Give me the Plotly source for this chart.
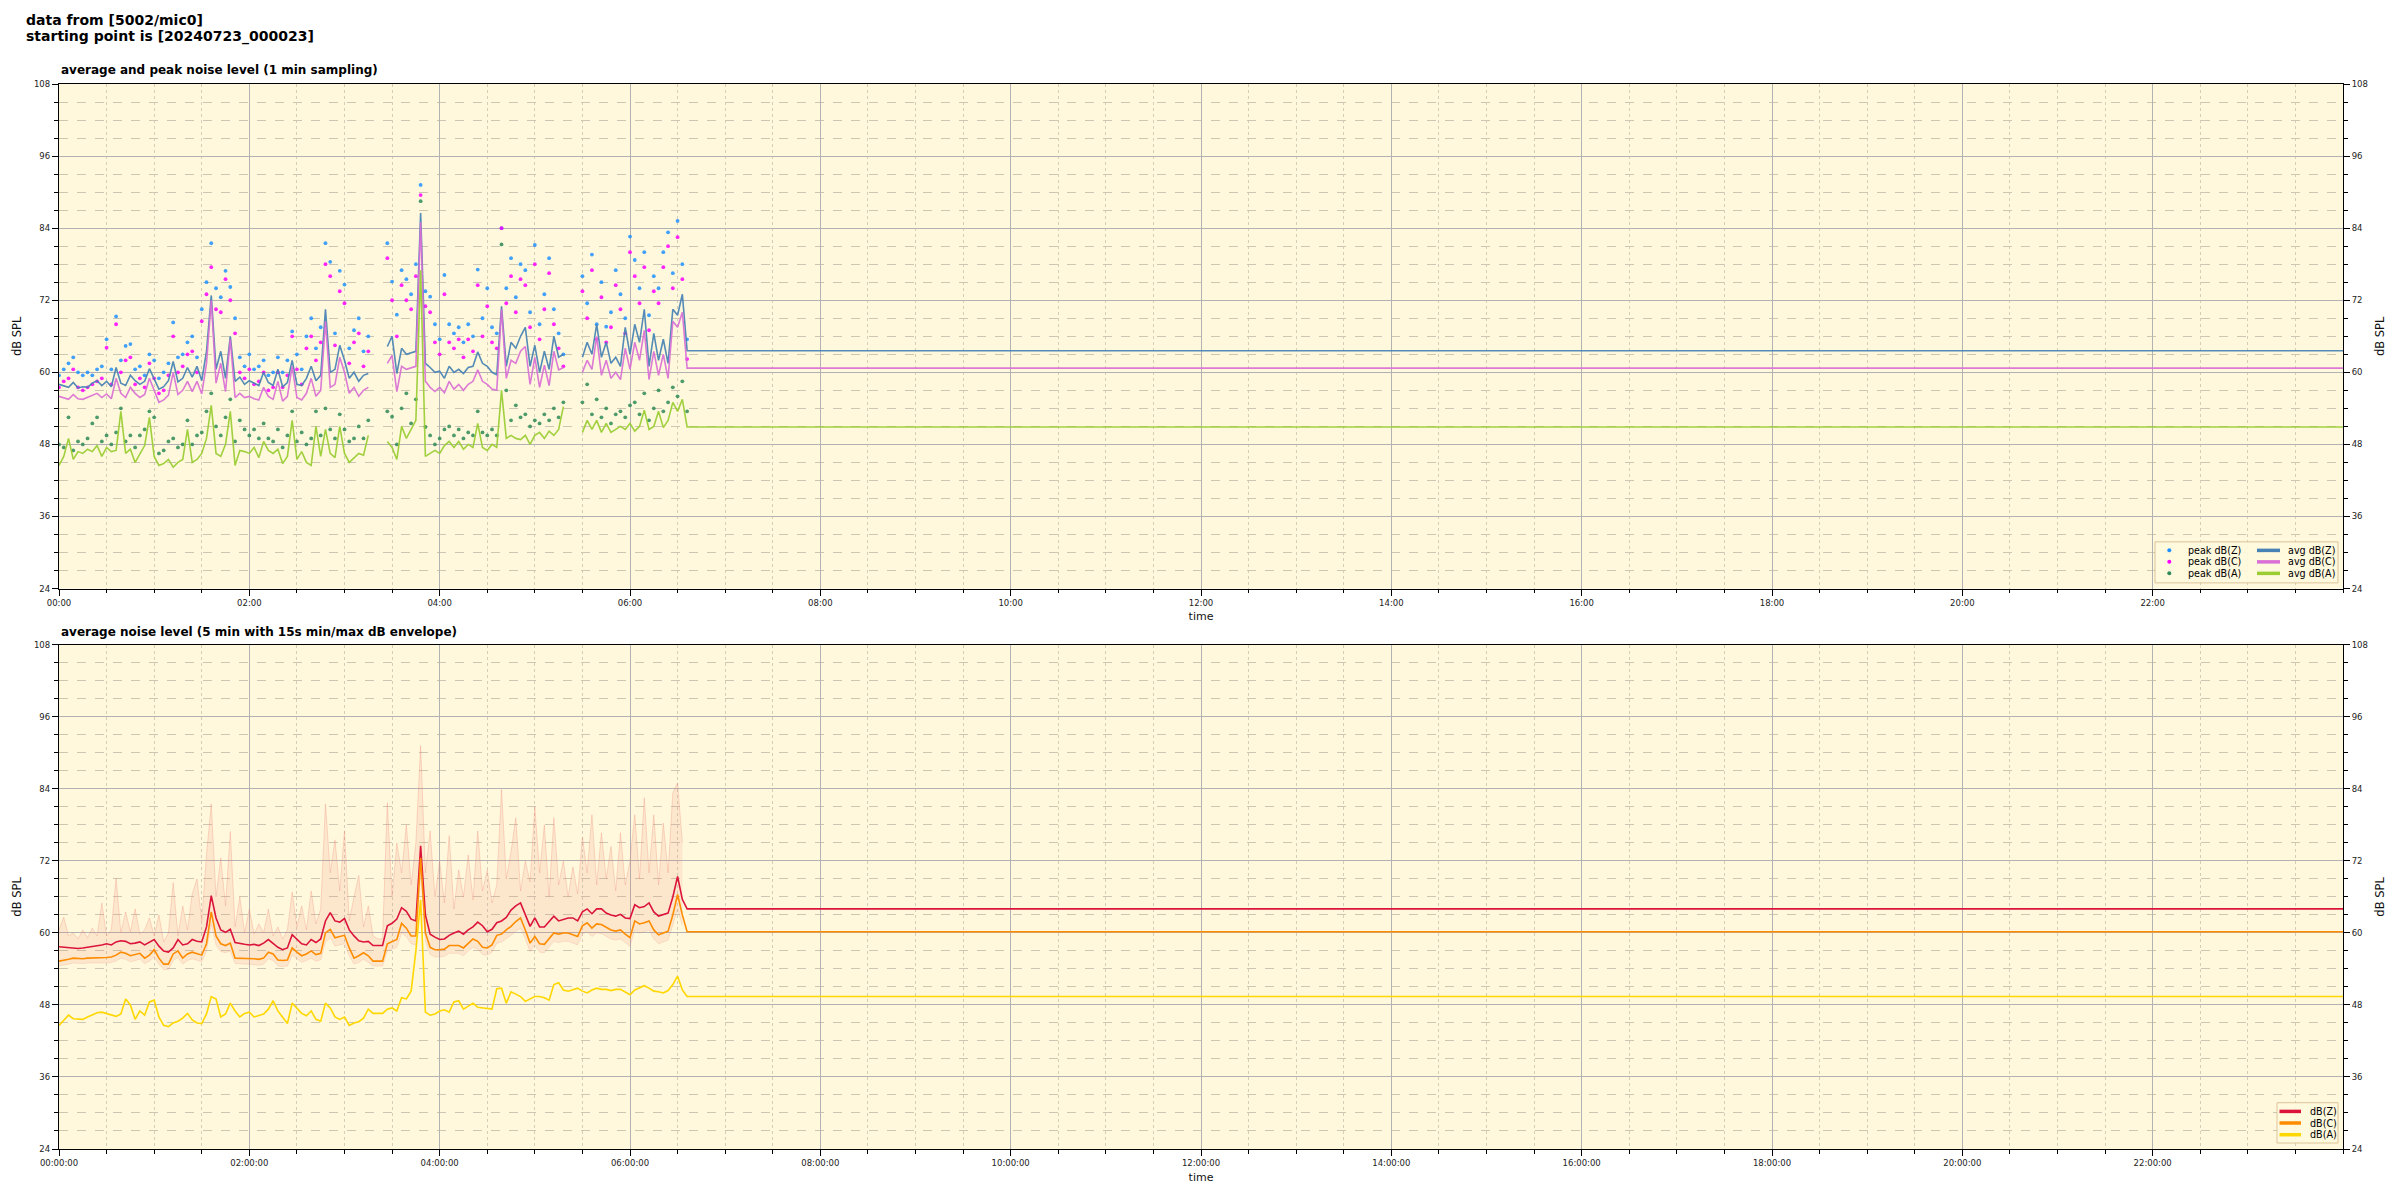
import plotly.graph_objects as go

# ---------------- data (time in minutes after 00:00, 3-minute grid) ----------------
T = list(range(0, 397, 3))          # 0 .. 396 min
T_ENV = T[:-1]                        # envelope ends at 393 min
END = 1440                            # last timestamp of the day (flat continuation)

avg_z = [58.0, 57.8, 57.5, 58.3, 57.4, 57.6, 57.5, 58.2, 58.6, 57.8,
         58.5, 57.6, 60.8, 58.2, 57.8, 59.5, 58.6, 58.0, 58.5, 60.6,
         59.0, 57.2, 57.6, 58.6, 61.8, 58.4, 59.0, 60.8, 59.2, 61.0,
         58.6, 63.5, 72.8, 60.5, 63.5, 59.0, 66.0, 58.5, 59.2, 58.0,
         58.6, 58.2, 57.8, 60.0, 58.3, 57.8, 60.5, 57.6, 58.3, 62.0,
         58.0, 57.8, 59.0, 61.0, 58.6, 59.5, 70.5, 60.0, 60.5, 64.5,
         62.0, 59.0, 60.0, 58.5, 59.5, 59.8, None, None, None, 64.3,
         66.0, 59.8, 64.0, 63.0, 63.2, 63.5, 86.5, 61.5, 60.8, 60.0,
         60.2, 59.0, 61.0, 60.0, 60.5, 59.8, 60.8, 61.0, 63.4, 61.5,
         61.0, 60.0, 59.6, 71.0, 61.0, 65.0, 64.0, 66.0, 67.5, 61.0,
         64.5, 60.0, 63.5, 60.5, 66.0, 62.5, 63.0, None, None, None,
         62.5, 65.0, 63.0, 68.0, 62.5, 65.0, 61.5, 62.5, 61.0, 67.5,
         63.0, 68.0, 65.0, 70.5, 61.0, 66.5, 62.0, 65.5, 61.5, 70.5,
         69.5, 73.0, 63.6]

avg_c = [56.0, 55.8, 55.5, 56.3, 55.6, 55.5, 55.8, 56.2, 56.5, 55.8,
         56.4, 55.6, 59.0, 56.5, 55.8, 57.5, 56.5, 55.8, 56.3, 59.0,
         57.0, 55.0, 55.4, 56.2, 60.0, 56.3, 57.0, 58.5, 56.8, 58.5,
         56.4, 61.5, 72.0, 58.2, 61.5, 56.8, 65.5, 55.8, 56.5, 55.8,
         56.0, 55.6, 55.4, 57.5, 56.0, 55.5, 58.5, 55.2, 56.0, 61.0,
         55.8, 55.4, 56.5, 59.0, 56.0, 57.0, 68.5, 57.5, 58.0, 62.5,
         60.0, 56.5, 57.5, 56.0, 57.0, 57.5, None, None, None, 61.5,
         62.8, 56.8, 61.0, 60.5, 60.8, 61.0, 85.0, 58.5, 57.5, 56.8,
         57.5, 56.6, 58.5, 57.2, 58.0, 57.0, 58.0, 58.5, 60.4, 58.5,
         58.0, 57.2, 57.0, 70.5, 59.0, 62.0, 61.5, 63.5, 64.3, 58.0,
         62.5, 57.5, 61.2, 57.8, 63.5, 60.4, 60.8, None, None, None,
         60.0, 62.0, 60.5, 66.0, 59.5, 62.0, 59.0, 60.0, 58.8, 64.0,
         60.5, 65.0, 62.0, 67.0, 58.8, 63.5, 59.5, 63.0, 59.0, 68.5,
         67.5, 70.0, 60.7]

avg_a = [44.5, 46.0, 49.0, 45.5, 46.8, 46.5, 47.2, 46.8, 47.8, 46.0,
         47.5, 46.8, 47.0, 53.5, 46.5, 47.2, 45.0, 46.5, 47.8, 52.5,
         46.0, 44.5, 44.8, 45.5, 44.2, 45.0, 45.5, 50.5, 45.0, 45.5,
         46.5, 49.0, 54.5, 46.5, 46.0, 48.0, 53.5, 44.5, 47.0, 46.8,
         46.5, 47.5, 45.8, 48.5, 47.0, 46.5, 47.2, 44.8, 46.0, 52.0,
         45.5, 46.8, 45.0, 44.5, 51.0, 46.0, 50.5, 46.5, 45.8, 51.0,
         46.5, 45.0, 45.8, 46.5, 46.2, 49.5, None, None, None, 48.5,
         47.5, 45.5, 51.0, 49.0, 50.5, 52.0, 77.0, 46.0, 46.5, 47.0,
         46.5, 47.8, 48.5, 47.5, 48.5, 47.2, 48.0, 47.5, 51.5, 47.5,
         47.0, 48.0, 47.5, 57.0, 49.0, 49.5, 49.0, 48.8, 49.5, 48.0,
         49.5, 50.0, 49.0, 50.2, 49.5, 50.5, 54.3, None, None, None,
         50.0, 52.0, 50.5, 52.0, 50.0, 51.5, 50.0, 50.5, 51.0, 50.5,
         51.5, 50.2, 51.0, 53.7, 50.5, 51.0, 53.5, 50.8, 52.0, 55.0,
         53.5, 55.5, 50.9]

peak_z = [59.5, 60.5, 61.5, 62.5, 60.0, 59.5, 60.0, 59.5, 60.5, 61.0,
          65.5, 60.5, 69.3, 62.0, 64.4, 64.7, 60.5, 61.0, 59.5, 63.0,
          62.0, 59.0, 60.0, 61.5, 68.3, 62.5, 63.0, 65.0, 66.0, 62.5,
          70.5, 75.0, 81.5, 74.0, 72.5, 76.9, 74.2, 69.0, 62.5, 61.0,
          63.0, 60.5, 61.0, 62.0, 59.5, 60.0, 62.5, 60.0, 62.0, 66.8,
          63.0, 60.5, 66.0, 69.0, 64.0, 67.5, 81.5, 78.4, 66.5, 76.9,
          74.6, 64.0, 67.0, 69.0, 63.5, 66.0, None, None, None, 81.5,
          75.1, 69.6, 77.0, 75.5, 73.0, 78.0, 91.2, 73.5, 72.6, 68.0,
          65.5, 76.2, 68.0, 66.5, 67.5, 65.0, 68.0, 66.0, 77.1, 69.0,
          74.0, 67.5, 66.5, 84.0, 74.0, 79.0, 72.5, 78.0, 77.0, 70.0,
          81.2, 68.0, 73.0, 79.0, 70.5, 66.5, 63.0, None, None, None,
          76.0, 71.5, 79.6, 68.0, 75.0, 67.6, 70.0, 77.0, 73.0, 69.0,
          82.6, 78.7, 74.0, 80.0, 69.5, 76.0, 74.0, 80.0, 83.3, 76.5,
          85.2, 78.0, 65.5]

peak_c = [57.5, 58.5, 59.0, 60.5, 57.5, 57.0, 57.5, 58.0, 58.5, 59.0,
          64.1, 58.0, 68.0, 60.0, 62.0, 62.5, 58.0, 59.0, 57.5, 61.5,
          59.0, 56.5, 57.0, 59.5, 66.0, 60.0, 61.0, 63.0, 63.5, 60.0,
          68.5, 73.0, 77.5, 70.5, 70.0, 75.5, 72.0, 66.5, 60.0, 59.0,
          60.5, 58.0, 58.5, 60.0, 57.0, 57.5, 60.0, 57.5, 59.5, 66.0,
          60.5, 58.0, 64.0, 66.0, 62.0, 65.0, 78.0, 76.0, 64.5, 73.5,
          71.5, 61.5, 65.0, 66.5, 61.0, 63.5, None, None, None, 79.0,
          72.0, 66.0, 74.5, 72.0, 70.5, 76.0, 89.5, 71.0, 70.0, 65.0,
          63.0, 73.0, 65.0, 64.0, 65.5, 62.5, 65.5, 63.5, 74.5, 66.0,
          71.0, 65.0, 64.0, 84.0, 71.5, 76.0, 70.0, 75.5, 74.5, 67.5,
          78.0, 65.5, 70.5, 76.5, 68.0, 64.0, 61.0, None, None, None,
          73.5, 69.0, 77.0, 65.5, 72.5, 65.0, 67.5, 74.5, 70.5, 66.5,
          80.0, 76.0, 71.5, 77.5, 67.0, 73.5, 71.5, 77.5, 81.0, 74.0,
          82.5, 75.5, 62.2]

peak_a = [48.0, 47.5, 52.5, 47.0, 48.5, 48.0, 49.0, 51.5, 52.5, 48.5,
          49.5, 48.0, 50.0, 54.0, 48.5, 49.5, 47.5, 49.5, 50.5, 53.5,
          52.5, 46.5, 47.0, 48.5, 49.0, 47.5, 48.0, 52.0, 48.0, 49.5,
          50.0, 53.5, 56.5, 51.0, 49.5, 52.5, 55.5, 48.5, 52.0, 50.5,
          49.5, 50.5, 49.0, 51.5, 49.0, 48.5, 50.5, 47.5, 49.5, 53.5,
          48.5, 50.0, 48.0, 49.0, 53.5, 49.5, 54.0, 50.5, 49.0, 53.0,
          50.5, 48.5, 49.0, 51.0, 49.0, 52.0, None, None, None, 53.5,
          52.6, 48.0, 54.0, 56.5, 51.5, 55.5, 88.5, 50.9, 49.5, 48.0,
          49.0, 50.5, 51.0, 49.5, 50.5, 49.0, 50.0, 49.5, 53.5, 50.0,
          49.5, 50.5, 49.5, 81.3, 57.0, 52.0, 54.5, 52.5, 53.0, 51.0,
          52.0, 51.5, 53.0, 52.0, 54.0, 52.5, 55.0, None, None, None,
          55.0, 58.0, 53.0, 55.5, 52.5, 54.0, 51.5, 53.0, 53.5, 52.5,
          54.5, 55.0, 53.0, 56.5, 52.0, 54.0, 57.0, 53.5, 55.0, 57.5,
          56.0, 58.5, 53.5]

lvl_z = [57.7, 57.6, 57.5, 57.5, 57.4, 57.5, 57.6, 57.7, 57.9, 58.0,
         58.2, 58.0, 58.5, 58.7, 58.6, 58.2, 58.3, 58.5, 58.0, 58.4,
         58.9, 57.8, 57.0, 56.8, 57.5, 58.9, 58.0, 58.2, 58.9, 58.6,
         58.5, 61.0, 66.2, 62.5, 60.5, 60.1, 60.6, 58.4, 58.2, 58.1,
         58.0, 58.1, 57.9, 58.3, 58.9, 58.2, 57.6, 57.2, 57.5, 59.7,
         59.0, 58.2, 58.0, 58.9, 58.4, 59.0, 62.0, 63.4, 62.0, 61.8,
         62.4, 60.5, 59.5, 58.7, 58.5, 58.6, 57.9, 57.9, 57.9, 61.2,
         61.6, 62.3, 64.2, 63.6, 62.3, 62.0, 74.5, 63.0, 59.8, 59.3,
         58.9, 59.0, 59.6, 60.0, 60.3, 59.8, 60.5, 61.0, 61.8, 61.2,
         60.2, 60.6, 61.7, 62.0, 62.6, 63.8, 64.5, 65.0, 63.0, 61.1,
         62.5, 61.0, 61.0, 61.9, 62.8, 62.0, 62.3, 62.5, 62.5, 62.0,
         63.5, 64.0, 63.2, 64.0, 64.0, 63.3, 63.0, 62.8, 63.1, 62.5,
         62.4, 64.7, 64.2, 64.4, 65.0, 63.5, 62.8, 63.1, 63.3, 66.0,
         69.4, 65.6, 64.0]

lvl_c = [55.3, 55.4, 55.6, 55.8, 55.7, 55.7, 55.8, 55.8, 55.9, 55.8,
         55.9, 56.0, 56.3, 56.8, 56.6, 56.2, 56.4, 56.6, 55.8, 56.3,
         57.2, 55.8, 54.8, 54.8, 56.5, 57.0, 55.8, 56.5, 56.8, 56.5,
         56.3, 58.2, 63.5, 59.5, 58.2, 57.9, 58.3, 55.8, 55.8, 55.8,
         55.8, 55.7, 55.6, 55.8, 56.8, 56.5, 55.5, 55.4, 55.5, 57.5,
         56.8, 56.2, 56.5, 57.0, 56.4, 56.6, 60.0, 60.6, 59.2, 59.4,
         59.6, 57.5, 55.8, 56.2, 56.7, 56.2, 55.3, 55.3, 55.3, 58.2,
         58.5, 58.9, 61.6, 60.8, 59.5, 59.5, 72.5, 60.0, 57.6, 57.2,
         57.2, 57.3, 57.9, 57.9, 57.9, 57.5, 58.3, 59.0, 58.6, 57.6,
         57.5, 58.0, 59.6, 59.8, 60.5, 61.1, 61.9, 62.5, 60.5, 58.3,
         59.4, 58.2, 58.1, 59.0, 60.0, 59.8, 60.0, 60.0, 59.7, 59.4,
         61.2, 61.7, 60.8, 61.5, 61.4, 61.0, 60.5, 60.3, 60.5, 59.8,
         59.2, 62.0, 61.5, 61.7, 62.0, 60.5, 59.7, 60.0, 60.3, 63.0,
         66.4, 63.0, 60.2]

lvl_a = [44.6, 45.5, 46.3, 45.7, 45.6, 45.6, 46.0, 46.3, 46.7, 46.8,
         46.6, 46.3, 46.1, 46.5, 49.0, 48.0, 45.6, 47.0, 46.3, 48.5,
         48.8, 46.0, 44.6, 44.4, 45.0, 45.3, 45.8, 46.6, 45.5, 45.0,
         44.9, 46.5, 49.4, 49.0, 46.0, 46.5, 48.3, 47.0, 46.0, 46.6,
         46.8, 46.0, 46.3, 46.5, 47.3, 48.7, 47.0, 46.0, 44.9, 48.3,
         47.5, 46.6, 46.2, 47.0, 45.6, 45.3, 48.3, 47.5, 46.0, 45.6,
         46.0, 44.6, 45.0, 45.2, 45.8, 47.3, 46.6, 46.6, 46.6, 47.3,
         47.5, 47.0, 49.2, 49.0, 50.3, 57.0, 65.5, 46.8, 46.3, 46.5,
         47.0, 47.2, 46.8, 48.5, 48.7, 47.3, 47.8, 48.3, 47.6, 47.5,
         47.3, 47.3, 50.7, 50.8, 48.3, 50.2, 49.8, 49.4, 48.6, 49.0,
         49.4, 49.4, 49.2, 48.8, 51.4, 51.7, 50.5, 50.3, 50.6, 50.8,
         50.3, 50.0, 50.5, 50.8, 50.6, 50.6, 50.4, 50.6, 50.6, 50.2,
         49.7, 50.5, 50.8, 51.2, 50.8, 50.3, 50.2, 50.0, 50.4, 51.4,
         52.8, 50.5, 49.4]

env_hi = [60.5, 62.6, 59.5, 60.0, 59.0, 60.5, 59.2, 60.8, 59.5, 65.0,
          59.5, 60.5, 69.1, 60.0, 63.5, 60.2, 64.0, 59.8, 60.5, 62.5,
          59.5, 63.0, 58.5, 60.0, 68.4, 59.5, 64.5, 60.5, 66.5, 69.0,
          62.0, 73.0, 81.5, 66.0, 72.5, 64.5, 76.9, 61.0, 66.0, 60.0,
          64.0, 59.8, 61.5, 60.0, 64.0, 59.5, 61.0, 59.0, 60.5, 66.8,
          61.0, 64.5, 60.5, 67.0, 61.5, 64.0, 81.5, 70.0, 75.5, 67.0,
          77.0, 62.0, 66.0, 69.6, 61.0, 64.5, 59.5, 59.0, 59.0, 81.7,
          66.0, 75.0, 70.0, 78.0, 68.0, 75.0, 91.2, 70.0, 77.0, 66.0,
          72.0, 65.0, 76.2, 64.0, 70.5, 66.0, 73.0, 65.5, 77.0, 67.0,
          70.5, 65.0, 68.0, 83.9, 69.0, 73.5, 79.2, 67.0, 72.0, 68.5,
          81.0, 70.0, 78.0, 66.0, 79.2, 68.0, 72.0, 66.0, 71.0, 66.5,
          76.0, 70.0, 79.7, 68.0, 76.7, 69.0, 74.4, 67.0, 76.7, 68.0,
          72.0, 79.7, 69.0, 82.5, 70.0, 79.7, 68.0, 78.3, 70.0, 83.3,
          85.0, 75.0]

env_lo = [54.5, 54.6, 54.8, 55.0, 54.9, 54.9, 55.0, 55.0, 55.0, 54.9,
          55.0, 55.1, 55.3, 55.8, 55.6, 55.2, 55.4, 55.6, 54.9, 55.3,
          56.0, 54.8, 53.9, 53.9, 55.4, 55.9, 54.8, 55.4, 55.7, 55.4,
          55.2, 57.0, 61.5, 58.0, 56.9, 56.7, 57.0, 54.9, 54.8, 54.8,
          54.8, 54.7, 54.6, 54.8, 55.7, 55.4, 54.5, 54.4, 54.5, 56.3,
          55.7, 55.1, 55.4, 55.8, 55.3, 55.5, 58.5, 59.2, 57.8, 58.0,
          58.2, 56.2, 54.8, 55.1, 55.6, 55.1, 54.5, 54.5, 54.5, 57.0,
          57.3, 57.6, 60.0, 59.4, 58.2, 58.0, 70.0, 58.6, 56.4, 56.0,
          56.0, 56.1, 56.6, 56.6, 56.6, 56.2, 57.0, 57.6, 57.3, 56.4,
          56.3, 56.8, 58.3, 58.5, 59.0, 59.6, 60.3, 60.8, 59.0, 56.9,
          58.0, 56.8, 56.7, 57.6, 58.6, 58.4, 58.6, 58.6, 58.3, 58.0,
          59.8, 60.2, 59.4, 60.0, 59.9, 59.5, 59.0, 58.8, 59.0, 58.4,
          57.8, 60.5, 60.0, 60.2, 60.5, 59.0, 58.2, 58.5, 58.8, 61.3,
          64.0, 61.2]

X_TICKS = list(range(0, 1440, 120))
TOP_TICKTEXT = ["%02d:00" % (v // 60) for v in X_TICKS]
BOT_TICKTEXT = ["%02d:00:00" % (v // 60) for v in X_TICKS]

# ---------------- geometry ----------------
W, H = 2400, 1200
ML, MR, MT, MB = 59, 57, 84, 50.7
PW, PH = W - ML - MR, H - MT - MB


def xp(p):
    return (p - ML) / PW


def yp(p):
    return (H - MB - p) / PH


TOP_DOM = [yp(588.7), 1.0]
BOT_DOM = [0.0, yp(645.0)]

FONT = "DejaVu Sans"
BG = "#fff8dc"

C_PZ, C_PC, C_PA = "#1e90ff", "#ff00ff", "#2e8b57"
C_AZ, C_AC, C_AA = "#4682b4", "#da70d6", "#9acd32"
C_Z, C_C, C_A = "#dc143c", "#ff8c00", "#ffd700"


def ext(vals):
    return vals + [vals[-1]]


TX = T + [END]

fig = go.Figure()

# top: peak markers
for vals, col in [(peak_z, C_PZ), (peak_c, C_PC), (peak_a, C_PA)]:
    fig.add_trace(go.Scatter(x=T, y=vals, mode="markers", xaxis="x", yaxis="y",
                             marker=dict(color=col, size=3.8, opacity=0.85, line=dict(width=0)),
                             showlegend=False, hoverinfo="skip"))
# top: average lines
for vals, col in [(avg_z, C_AZ), (avg_c, C_AC), (avg_a, C_AA)]:
    fig.add_trace(go.Scatter(x=TX, y=ext(vals), mode="lines", xaxis="x", yaxis="y",
                             line=dict(color=col, width=1.6), opacity=0.92,
                             connectgaps=False, showlegend=False, hoverinfo="skip"))

# bottom: envelope
ENV_LINE = "rgba(236,130,115,0.32)"
fig.add_trace(go.Scatter(x=T_ENV, y=env_lo, mode="lines", xaxis="x2", yaxis="y2",
                         line=dict(color=ENV_LINE, width=0.6),
                         showlegend=False, hoverinfo="skip"))
fig.add_trace(go.Scatter(x=T_ENV, y=env_hi, mode="lines", xaxis="x2", yaxis="y2",
                         fill="tonexty", fillcolor="rgba(236,130,115,0.14)",
                         line=dict(color=ENV_LINE, width=0.9),
                         showlegend=False, hoverinfo="skip"))
for vals, col in [(lvl_z, C_Z), (lvl_c, C_C), (lvl_a, C_A)]:
    fig.add_trace(go.Scatter(x=TX, y=ext(vals), mode="lines", xaxis="x2", yaxis="y2",
                             line=dict(color=col, width=1.6),
                             showlegend=False, hoverinfo="skip"))

# dummy traces so that the right-hand axes are drawn
fig.add_trace(go.Scatter(x=[0], y=[None], xaxis="x", yaxis="y3", showlegend=False, hoverinfo="skip"))
fig.add_trace(go.Scatter(x=[0], y=[None], xaxis="x2", yaxis="y4", showlegend=False, hoverinfo="skip"))

TICKFONT = dict(family=FONT, size=8.5, color="#222")
TITLEFONT = dict(family=FONT, size=11.5, color="#111")


def xaxis(ticktext, anchor):
    return dict(range=[0, END], tickmode="array", tickvals=X_TICKS, ticktext=ticktext,
                ticks="outside", ticklen=6, tickwidth=1, tickcolor="black",
                showline=True, linecolor="black", linewidth=1.3, mirror=True,
                showgrid=True, gridcolor="#b2b2b2", gridwidth=1.3, zeroline=False,
                automargin=False,
                minor=dict(dtick=30, tick0=0, ticks="outside", ticklen=3.5, tickwidth=1,
                           tickcolor="black", showgrid=True, gridcolor="#d4cdb8",
                           griddash="dot", gridwidth=1),
                tickfont=TICKFONT, anchor=anchor,
                title=dict(text="time", font=dict(family=FONT, size=11, color="#111"), standoff=5))


def yaxis(domain, anchor, side="left", overlay=None):
    d = dict(range=[24, 108], tickmode="linear", tick0=24, dtick=12,
             ticks="outside", ticklen=6, tickwidth=1, tickcolor="black",
             zeroline=False, tickfont=TICKFONT, anchor=anchor, side=side,
             automargin=False,
             title=dict(text="dB SPL", font=TITLEFONT, standoff=9))
    if overlay is None:
        d.update(domain=domain, showline=True, linecolor="black", linewidth=1.3, mirror=True,
                 showgrid=True, gridcolor="#b2b2b2", gridwidth=1.3,
                 minor=dict(dtick=3, tick0=24, ticks="outside", ticklen=3.5, tickwidth=1,
                            tickcolor="black", showgrid=True, gridcolor="#cdc6b2",
                            griddash="dash", gridwidth=1))
    else:
        d.update(overlaying=overlay, showline=False, showgrid=False,
                 minor=dict(dtick=3, tick0=24, ticks="outside", ticklen=3.5, tickwidth=1,
                            tickcolor="black", showgrid=False))
    return d


annotations = [
    dict(text="<b>data from [5002/mic0]</b>", x=xp(24), y=yp(20), xref="paper", yref="paper",
         xanchor="left", yanchor="middle", showarrow=False, font=dict(family=FONT, size=14, color="black")),
    dict(text="<b>starting point is [20240723_000023]</b>", x=xp(24), y=yp(36), xref="paper", yref="paper",
         xanchor="left", yanchor="middle", showarrow=False, font=dict(family=FONT, size=14, color="black")),
    dict(text="<b>average and peak noise level (1 min sampling)</b>", x=0, y=yp(70), xref="paper",
         yref="paper", xanchor="left", yanchor="middle", showarrow=False,
         font=dict(family=FONT, size=12, color="black")),
    dict(text="<b>average noise level (5 min with 15s min/max dB envelope)</b>", x=0, y=yp(632),
         xref="paper", yref="paper", xanchor="left", yanchor="middle", showarrow=False,
         font=dict(family=FONT, size=12, color="black")),
]
shapes = []

LEGFONT = dict(family=FONT, size=9.6, color="black")
LEG_BOX = dict(type="rect", xref="paper", yref="paper", line=dict(color="#dcc49a", width=1),
               fillcolor="rgba(255,248,222,0.9)", layer="above")

# top legend (2 columns)
shapes.append(dict(LEG_BOX, x0=xp(2155), x1=xp(2338), y0=yp(583), y1=yp(542)))
rows_top = [550.5, 562.0, 573.5]
for ry, (lab, col) in zip(rows_top, [("peak dB(Z)", C_PZ), ("peak dB(C)", C_PC), ("peak dB(A)", C_PA)]):
    shapes.append(dict(type="circle", xref="paper", yref="paper", x0=xp(2167.3), x1=xp(2171.3),
                       y0=yp(ry + 2), y1=yp(ry - 2), fillcolor=col, line=dict(width=0), layer="above"))
    annotations.append(dict(text=lab, x=xp(2186), y=yp(ry), xref="paper", yref="paper",
                            xanchor="left", yanchor="middle", showarrow=False, font=LEGFONT))
for ry, (lab, col) in zip(rows_top, [("avg dB(Z)", C_AZ), ("avg dB(C)", C_AC), ("avg dB(A)", C_AA)]):
    shapes.append(dict(type="line", xref="paper", yref="paper", x0=xp(2257), x1=xp(2280),
                       y0=yp(ry), y1=yp(ry), line=dict(color=col, width=3.5), layer="above"))
    annotations.append(dict(text=lab, x=xp(2286), y=yp(ry), xref="paper", yref="paper",
                            xanchor="left", yanchor="middle", showarrow=False, font=LEGFONT))

# bottom legend
shapes.append(dict(LEG_BOX, x0=xp(2277), x1=xp(2338), y0=yp(1143.3), y1=yp(1103)))
rows_bot = [1111.7, 1123.3, 1135.0]
for ry, (lab, col) in zip(rows_bot, [("dB(Z)", C_Z), ("dB(C)", C_C), ("dB(A)", C_A)]):
    shapes.append(dict(type="line", xref="paper", yref="paper", x0=xp(2279.5), x1=xp(2301),
                       y0=yp(ry), y1=yp(ry), line=dict(color=col, width=3.5), layer="above"))
    annotations.append(dict(text=lab, x=xp(2308), y=yp(ry), xref="paper", yref="paper",
                            xanchor="left", yanchor="middle", showarrow=False, font=LEGFONT))

fig.update_layout(
    width=W, height=H,
    margin=dict(l=ML, r=MR, t=MT, b=MB, pad=0, autoexpand=False),
    paper_bgcolor="white", plot_bgcolor=BG,
    font=dict(family=FONT, color="black"),
    showlegend=False,
    xaxis=xaxis(TOP_TICKTEXT, "y"),
    xaxis2=xaxis(BOT_TICKTEXT, "y2"),
    yaxis=yaxis(TOP_DOM, "x"),
    yaxis2=yaxis(BOT_DOM, "x2"),
    yaxis3=yaxis(None, "x", side="right", overlay="y"),
    yaxis4=yaxis(None, "x2", side="right", overlay="y2"),
    annotations=annotations,
    shapes=shapes,
)

fig.write_html("out.html",
               config={"displayModeBar": False},
               post_script="document.body.style.margin='0px';document.body.style.overflow='hidden';")
